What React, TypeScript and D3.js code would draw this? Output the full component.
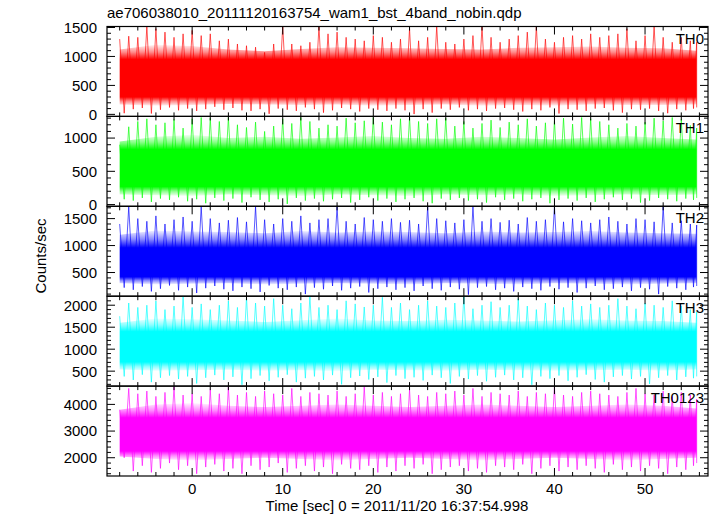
import React from "react";
import * as d3 from "d3";

const TITLE = "ae706038010_20111120163754_wam1_bst_4band_nobin.qdp";
const X_LABEL = "Time [sec] 0 = 2011/11/20 16:37:54.998";
const Y_LABEL = "Counts/sec";

const bands = ["TH0", "TH1", "TH2", "TH3", "TH0123"];
const colors = ["#ff0000", "#00ff00", "#0000ff", "#00ffff", "#ff00ff"];

// 1-second bins (t = -8 .. 55, last partial bin 55.7)
const binTimes = [
  -8, -7, -6, -5, -4, -3, -2, -1, 0, 1, 2, 3, 4, 5, 6, 7, 8, 9, 10, 11, 12, 13, 14, 15, 16, 17, 18, 19, 20,
  21, 22, 23, 24, 25, 26, 27, 28, 29, 30, 31, 32, 33, 34, 35, 36, 37, 38, 39, 40, 41, 42, 43, 44, 45, 46,
  47, 48, 49, 50, 51, 52, 53, 54, 55, 55.7,
];
// 4-second grid for the dense-band edges
const edgeTimes = [-8, -4, 0, 4, 8, 12, 16, 20, 24, 28, 32, 36, 40, 44, 48, 52, 55.7];

// per-second peak values
const hiTH0 = [1300,1350,1330,1520,1480,1420,1330,1390,1450,1360,1390,1270,1300,1215,1185,1160,1070,1215,1520,1215,1185,1245,1520,1390,1420,1330,1300,1270,1360,1330,1245,1300,1480,1270,1330,1520,1245,1215,1300,1360,1520,1330,1245,1300,1360,1420,1520,1300,1245,1330,1360,1300,1390,1330,1360,1390,1480,1270,1360,1520,1330,1245,1330,1270,1245];
const hiTH1 = [900,1170,1250,1290,1200,1230,1280,1150,1290,1310,1300,1250,1310,1200,1160,1240,1100,1180,1290,1220,1310,1250,1150,1200,1180,1300,1230,1260,1310,1240,1200,1290,1310,1250,1220,1290,1300,1180,1250,1150,1220,1270,1160,1240,1200,1290,1180,1230,1260,1300,1210,1310,1290,1250,1200,1150,1220,1180,1240,1300,1260,1310,1280,1190,1150];
const hiTH2 = [1400,1720,1500,1450,1550,1400,1480,1530,1450,1720,1500,1420,1470,1520,1440,1720,1480,1400,1500,1450,1550,1420,1480,1500,1720,1450,1400,1520,1480,1450,1500,1430,1470,1400,1720,1500,1460,1420,1480,1720,1450,1500,1430,1470,1400,1520,1450,1480,1720,1440,1500,1460,1420,1480,1530,1450,1400,1500,1480,1440,1720,1420,1460,1400,1380];
const hiTH3 = [1750,2050,1950,2000,2100,1900,1980,2200,1950,2030,1900,2000,2100,1950,2180,2050,1980,2150,2000,1920,2050,2200,1950,2000,1900,2100,2030,1960,2000,2180,1950,2050,1900,2000,2100,1980,1950,2050,2200,1920,2000,2080,1950,2000,2150,1980,1900,2050,2000,1950,2100,1980,2030,1950,2000,2150,1980,1920,2050,2000,1950,2100,1980,1900,1850];
const hiTH0123 = [3800,4600,4400,4500,4300,4450,4650,4350,4400,4300,4550,4400,4650,4350,4450,4300,4500,4400,4350,4600,4300,4450,4400,4350,4500,4300,4400,4650,4350,4450,4300,4400,4550,4350,4300,4450,4400,4500,4350,4600,4300,4450,4400,4350,4500,4300,4450,4400,4650,4350,4300,4450,4500,4400,4350,4300,4450,4600,4400,4350,4500,4300,4450,4350,4200];

// per-second trough values
const loTH0 = [20,90,110,15,80,120,70,100,60,90,130,80,110,70,60,90,10,100,80,60,120,90,30,70,110,90,50,100,80,60,100,70,5,90,30,100,80,120,70,90,60,100,110,80,50,90,70,120,15,90,80,60,100,110,70,30,90,80,100,60,20,90,70,100,120];
const loTH1 = [80,60,100,40,90,70,110,50,80,20,100,60,90,30,110,70,40,80,10,100,60,90,50,80,100,30,70,110,60,90,40,80,100,50,20,90,70,100,60,80,30,110,70,90,50,80,100,20,70,90,60,100,40,80,110,70,90,30,60,100,80,50,90,70,100];
const loTH2 = [220,180,240,150,200,260,170,230,120,210,250,190,160,230,200,140,260,210,180,230,100,220,190,250,170,210,240,130,200,230,180,220,160,250,200,170,230,190,90,220,240,180,210,150,230,200,170,240,190,220,130,210,250,180,200,230,160,220,190,100,240,210,180,230,250];
const loTH3 = [380,300,420,250,350,400,320,380,220,350,410,300,370,190,330,400,280,360,420,250,340,380,300,410,200,350,390,310,370,240,400,330,360,290,410,350,220,380,320,400,270,360,410,300,350,190,380,330,400,280,360,420,310,250,370,400,320,380,210,350,400,300,370,340,380];
const loTH0123 = [2000,1500,1700,1450,1600,1800,1550,1700,1400,1650,1750,1500,1600,1400,1700,1550,1650,1800,1450,1600,1700,1500,1650,1400,1750,1600,1550,1700,1450,1650,1500,1700,1600,1750,1400,1550,1650,1700,1500,1600,1450,1700,1650,1550,1750,1400,1600,1700,1500,1650,1550,1700,1600,1450,1750,1550,1650,1500,1700,1600,1400,1650,1550,1700,1800];

// typical upper / lower edge of the dense band (4-second grid)
const edgeHiTH0 = [1120,1200,1180,1120,1090,1130,1160,1150,1140,1130,1120,1150,1160,1170,1150,1140,1100];
const edgeLoTH0 = [170,150,160,180,170,160,170,150,160,170,150,160,150,170,160,160,170];
const edgeHiTH1 = [950,1020,1050,1000,1020,990,1010,1030,1000,990,1020,1000,980,1010,1030,1000,980];
const edgeLoTH1 = [150,140,130,150,140,130,150,140,130,150,140,150,130,140,150,140,150];
const edgeHiTH2 = [1200,1280,1260,1250,1230,1270,1240,1260,1250,1230,1260,1240,1250,1270,1240,1230,1220];
const edgeLoTH2 = [300,280,290,300,280,290,300,290,280,300,290,280,300,290,280,290,300];
const edgeHiTH3 = [1600,1700,1680,1650,1620,1660,1700,1650,1640,1670,1650,1630,1660,1680,1650,1640,1600];
const edgeLoTH3 = [540,510,520,530,510,520,500,530,520,510,530,520,510,520,530,510,540];
const edgeHiTH0123 = [3800,4000,4050,3950,3900,3950,4000,3950,3900,3950,4000,3950,3900,3950,4000,3950,3850];
const edgeLoTH0123 = [2050,1950,1900,1950,2000,1950,1900,1950,2000,1950,1900,1950,2000,1950,1900,1950,2000];

// solid core of each band
const coreLo = [300, 270, 420, 710, 2250];
const coreHi = [950, 830, 960, 1400, 3500];

const hiSeries = [hiTH0, hiTH1, hiTH2, hiTH3, hiTH0123];
const loSeries = [loTH0, loTH1, loTH2, loTH3, loTH0123];
const edgeHiSeries = [edgeHiTH0, edgeHiTH1, edgeHiTH2, edgeHiTH3, edgeHiTH0123];
const edgeLoSeries = [edgeLoTH0, edgeLoTH1, edgeLoTH2, edgeLoTH3, edgeLoTH0123];

// axis ranges / ticks
const xDomain: [number, number] = [-9.4, 56.95];
const xMajorTicks = [0, 10, 20, 30, 40, 50];
const yDomains: [number, number][] = [
  [-35, 1517],
  [-26, 1326],
  [61, 1728],
  [160, 2205],
  [1315, 4686],
];
const yMajorSteps = [500, 500, 500, 500, 1000];
const yMinorSteps = [100, 100, 100, 100, 200];

const W = 717;
const H = 516;
const LEFT = 107;
const RIGHT = 708;
const TOP = 26.5;
const PANEL_H = 89.9;
const FONT = "'Liberation Sans', Arial, Helvetica, sans-serif";

type Pt = { t: number; v: number };

function Panel({ i }: { i: number }) {
  const top = TOP + i * PANEL_H;
  const bottom = top + PANEL_H;
  const x = d3.scaleLinear().domain(xDomain).range([LEFT, RIGHT]);
  const y = d3.scaleLinear().domain(yDomains[i]).range([bottom, top]);
  const color = colors[i];
  const hi = hiSeries[i];
  const lo = loSeries[i];
  const eh = edgeHiSeries[i];
  const el = edgeLoSeries[i];

  // light curve: peak of each bin followed by its trough in the second half of the bin
  const pts: Pt[] = [];
  binTimes.forEach((t, k) => {
    const next = k < binTimes.length - 1 ? binTimes[k + 1] : t;
    pts.push({ t, v: hi[k] });
    pts.push({ t: (t + next) / 2, v: lo[k] });
  });
  const curve = d3
    .line<Pt>()
    .x((p) => x(p.t))
    .y((p) => y(p.v));

  const band = d3
    .area<number>()
    .x((_, k) => x(edgeTimes[k]))
    .y0((_, k) => y(el[k]))
    .y1((_, k) => y(eh[k]));

  const yTop = y(d3.max(eh) as number);
  const yBot = y(d3.min(el) as number);
  const span = yBot - yTop;
  const oCoreHi = (y(coreHi[i]) - yTop) / span;
  const oCoreLo = (y(coreLo[i]) - yTop) / span;

  const clipId = `clip${i}`;
  const gradId = `grad${i}`;
  const xMinor = d3.range(-8, 57, 2);
  const [y0, y1] = yDomains[i];
  const yMinor = d3.range(Math.ceil(y0 / yMinorSteps[i]) * yMinorSteps[i], y1, yMinorSteps[i]);
  const yMajor = yMinor.filter((v) => v % yMajorSteps[i] === 0);

  return (
    <g>
      <defs>
        <clipPath id={clipId}>
          <rect x={LEFT} y={top} width={RIGHT - LEFT} height={PANEL_H} />
        </clipPath>
        <linearGradient id={gradId} gradientUnits="userSpaceOnUse" x1={0} x2={0} y1={yTop} y2={yBot}>
          <stop offset={0} stopColor={color} stopOpacity={0.05} />
          <stop offset={oCoreHi * 0.5} stopColor={color} stopOpacity={0.45} />
          <stop offset={oCoreHi} stopColor={color} stopOpacity={1} />
          <stop offset={oCoreLo} stopColor={color} stopOpacity={1} />
          <stop offset={(oCoreLo + 1) / 2} stopColor={color} stopOpacity={0.45} />
          <stop offset={1} stopColor={color} stopOpacity={0.05} />
        </linearGradient>
      </defs>
      <g clipPath={`url(#${clipId})`}>
        <path d={curve(pts) || ""} fill="none" stroke={color} strokeOpacity={0.65} strokeWidth={1} />
        <path d={band(eh) || ""} fill={`url(#${gradId})`} />
      </g>
      <rect x={LEFT} y={top} width={RIGHT - LEFT} height={PANEL_H} fill="none" stroke="#000" strokeWidth={1.2} />
      {xMinor.map((t) => {
        const len = t % 10 === 0 ? 8 : 4;
        return (
          <g key={`xt${t}`} stroke="#000" strokeWidth={1}>
            <line x1={x(t)} x2={x(t)} y1={bottom} y2={bottom - len} />
            <line x1={x(t)} x2={x(t)} y1={top} y2={top + len} />
          </g>
        );
      })}
      {yMinor.map((v) => {
        const len = v % yMajorSteps[i] === 0 ? 8 : 4;
        return (
          <g key={`yt${v}`} stroke="#000" strokeWidth={1}>
            <line x1={LEFT} x2={LEFT + len} y1={y(v)} y2={y(v)} />
            <line x1={RIGHT} x2={RIGHT - len} y1={y(v)} y2={y(v)} />
          </g>
        );
      })}
      {yMajor.map((v) => (
        <text
          key={`yl${v}`}
          x={LEFT - 10}
          y={y(v)}
          dy="0.36em"
          textAnchor="end"
          fontSize={15}
          fontFamily={FONT}
          fill="#000"
        >
          {v}
        </text>
      ))}
      <text x={RIGHT - 4} y={top + 17} textAnchor="end" fontSize={15} fontFamily={FONT} fill="#000">
        {bands[i]}
      </text>
      {i === bands.length - 1 &&
        xMajorTicks.map((t) => (
          <text
            key={`xl${t}`}
            x={x(t)}
            y={bottom + 18}
            textAnchor="middle"
            fontSize={15}
            fontFamily={FONT}
            fill="#000"
          >
            {t}
          </text>
        ))}
    </g>
  );
}

export default function App() {
  return (
    <svg width={W} height={H} style={{ display: "block", position: "absolute", left: 0, top: 0, background: "#fff" }}>
      <rect x={0} y={0} width={W} height={H} fill="#fff" />
      <text x={LEFT} y={18} fontSize={15} fontFamily={FONT} fill="#000">
        {TITLE}
      </text>
      {bands.map((_, i) => (
        <Panel key={i} i={i} />
      ))}
      <text
        transform={`translate(46, 256) rotate(-90)`}
        textAnchor="middle"
        fontSize={15}
        fontFamily={FONT}
        fill="#000"
      >
        {Y_LABEL}
      </text>
      <text x={397} y={511} textAnchor="middle" fontSize={15} fontFamily={FONT} fill="#000">
        {X_LABEL}
      </text>
    </svg>
  );
}
